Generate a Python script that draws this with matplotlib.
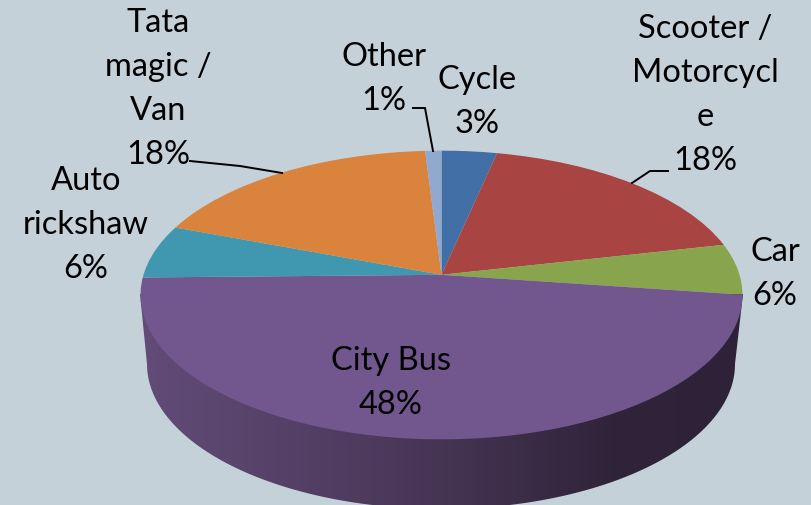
import numpy as np
from matplotlib import pyplot as plt
from matplotlib.colors import LinearSegmentedColormap
from matplotlib.patches import Polygon
from matplotlib.transforms import Transform

plt.rcParams['font.family'] = ['Lato', 'DejaVu Sans']

# shares measured off the slices, the labels carry the rounded percentages
labels = ['Cycle\n3%', 'Scooter /\nMotorcycl\ne\n18%', 'Car\n6%', 'City Bus\n48%',
          'Auto\nrickshaw\n6%', 'Tata\nmagic /\nVan\n18%', 'Other\n1%']
values = [3.4, 18.1, 5.7, 47.5, 6.0, 18.3, 1.0]
colors = ['#4270A6', '#A84543', '#88A44D', '#71578D', '#4098B0', '#DA833C', '#92A9CF']
side_colors = ['#624C78', '#4A3758', '#30243A', '#2E2238']

label_pos = [(477, 102), (705, 95), (775, 274), (391, 383), (86, 225), (158, 89), (384, 79)]
leaders = [[(190, 162), (240, 167), (282, 174)],
           [(668, 172), (650, 172), (632, 184)],
           [(413, 109), (425, 109), (433, 152)]]
BG = '#C5D1D8'


class Tilt(Transform):
    # perspective view of the unit disc, result in pixels of the picture
    input_dims = 2
    output_dims = 2
    is_separable = False

    def transform_non_affine(self, xy):
        xy = np.asarray(xy, dtype=float)
        w = 1 + 0.14 * xy[:, 1]
        return np.column_stack((441.5 + 298 * xy[:, 0] / w, 275.8 - 141.5 * xy[:, 1] / w))


fig = plt.figure(figsize=(8.11, 5.06), dpi=100, facecolor=BG)
ax = fig.add_axes([0, 0, 1, 1])
wedges, _ = ax.pie(values, colors=colors, startangle=90, counterclock=False,
                   wedgeprops={'linewidth': 0})
ax.set_aspect('auto')
ax.set_xlim(0, 811)
ax.set_ylim(506, 0)
ax.axis('off')
for w in wedges:
    w.set_transform(Tilt() + ax.transData)
    w.set_zorder(3)

# rim of the pie, dark gradient clipped to the outline
t = np.linspace(0, np.pi, 200)
rim = np.column_stack((441 + 294 * np.cos(t), 365 + 145 * np.sin(t)))
rim = np.vstack(([(743, 295)], rim, [(140, 295)]))
clip = Polygon(rim, closed=True, transform=ax.transData, facecolor='none', edgecolor='none')
ax.add_patch(clip)
cmap = LinearSegmentedColormap.from_list('rim', list(zip([0, 0.45, 0.78, 1], side_colors)))
img = ax.imshow(np.linspace(0, 1, 256).reshape(1, -1), cmap=cmap, extent=(140, 743, 506, 290),
                aspect='auto', zorder=2)
img.set_clip_path(clip)
ax.set_xlim(0, 811)
ax.set_ylim(506, 0)

for line in leaders:
    xs, ys = zip(*line)
    ax.plot(xs, ys, color='black', lw=1.4, zorder=4, solid_joinstyle='miter')

for text, (x, y) in zip(labels, label_pos):
    ax.text(x, y, text, ha='center', va='center', fontsize=23.5, color='black',
            linespacing=1.58, zorder=5, multialignment='center')

plt.savefig('out.png', dpi=100, facecolor=BG)
